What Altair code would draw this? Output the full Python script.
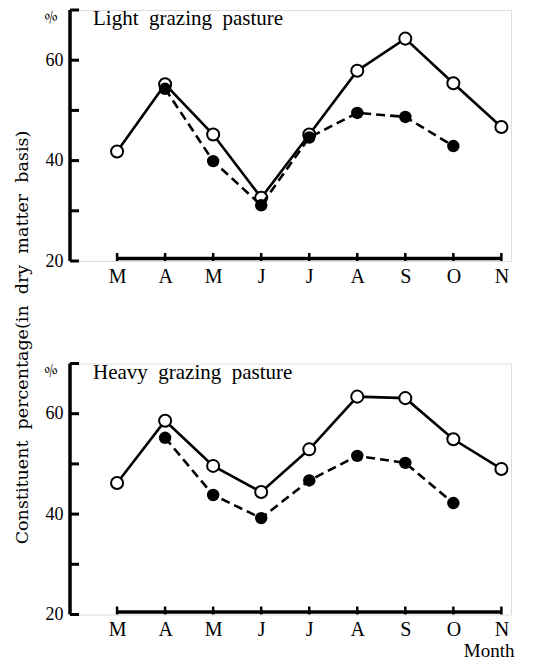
import altair as alt
import pandas as pd

months = ["M", "A", "M", "J", "J", "A", "S", "O", "N"]
light_open = [41.8, 55.2, 45.2, 32.6, 45.2, 57.9, 64.3, 55.4, 46.7]
light_filled = [None, 54.3, 39.9, 31.1, 44.6, 49.5, 48.7, 42.9, None]
heavy_open = [46.2, 58.6, 49.6, 44.4, 52.9, 63.4, 63.1, 54.9, 49.0]
heavy_filled = [None, 55.2, 43.8, 39.2, 46.7, 51.6, 50.2, 42.2, None]
y_ticks = [20, 30, 40, 50, 60, 70]
y_labels = [20, 40, 60]
y_range = [20, 70]
GAP = "\u00a0 "
panel_titles = [GAP.join(["Light", "grazing", "pasture"]), GAP.join(["Heavy", "grazing", "pasture"])]
y_title = GAP.join(["Constituent", "percentage(in", "dry", "matter", "basis)"])
x_title = "Month"
pct = "%"

FONT = "Liberation Serif"
TFONT = "DejaVu Serif"
W, H = 441, 251
idx = list(range(len(months)))
label_expr = "[" + ",".join("'" + m + "'" for m in months) + "][datum.value]"


def panel(open_vals, filled_vals, title, first):
    d_open = pd.DataFrame({"i": idx, "v": open_vals})
    d_filled = pd.DataFrame({"i": idx, "v": filled_vals}).dropna()
    d_ticks = pd.DataFrame({"v": y_ticks})
    d_months = pd.DataFrame({"i": idx})
    d_range = pd.DataFrame({"v": [y_range[0]], "v2": [y_range[1]]})

    x_axis = alt.Axis(
        values=idx, labelExpr=label_expr, domain=False, ticks=False, grid=False,
        labelFont=FONT, labelFontSize=20, labelColor="black", labelPadding=5,
        labelAngle=0,
        title=None if first else x_title,
        titleFont=FONT, titleFontSize=19, titleFontWeight="normal", titleColor="black",
        titleX=W + 3, titleY=42, titleAlign="right", titleBaseline="alphabetic",
        titleAnchor="end",
    )
    if first:
        y_axis = alt.Axis(
            values=y_labels, domain=False, ticks=False, grid=False,
            labelFont=FONT, labelFontSize=18, labelColor="black", labelPadding=7,
            title=y_title, titleFont=TFONT, titleFontSize=17.5, titleFontWeight="normal",
            titleColor="black", titleAngle=270, titleX=-39, titleY=327,
            titleAlign="center", titleBaseline="bottom",
        )
    else:
        y_axis = alt.Axis(
            values=y_labels, domain=False, ticks=False, grid=False,
            labelFont=FONT, labelFontSize=18, labelColor="black", labelPadding=7,
            title=None,
        )

    xs = alt.X("i:Q", scale=alt.Scale(domain=[-0.98, 8.2], nice=False, zero=False), axis=x_axis)
    ys = alt.Y("v:Q", scale=alt.Scale(domain=y_range, nice=False, zero=False), axis=y_axis)

    solid = alt.Chart(d_open).mark_line(color="black", strokeWidth=2.6).encode(x=xs, y=ys)
    open_pts = alt.Chart(d_open).mark_point(
        shape="circle", size=145, filled=True, fill="white", stroke="black",
        strokeWidth=2, opacity=1,
    ).encode(x="i:Q", y="v:Q")
    dashed = alt.Chart(d_filled).mark_line(
        color="black", strokeWidth=2.6, strokeDash=[9, 5]
    ).encode(x="i:Q", y="v:Q")
    filled_pts = alt.Chart(d_filled).mark_circle(size=155, color="black", opacity=1).encode(
        x="i:Q", y="v:Q"
    )
    yline = alt.Chart(d_range).mark_rule(color="black", strokeWidth=3.5).encode(
        y="v:Q", y2="v2", x=alt.value(0)
    )
    ytick_rules = alt.Chart(d_ticks).mark_rule(color="black", strokeWidth=3).encode(
        y="v:Q", x=alt.value(0), x2=alt.value(9)
    )
    xline = alt.Chart(d_months).mark_rule(color="black", strokeWidth=3.5, yOffset=-2.5).encode(
        x="min(i):Q", x2="max(i)", y=alt.datum(y_range[0])
    )
    xticks = alt.Chart(d_months).mark_rule(color="black", strokeWidth=2.5).encode(
        x="i:Q", y=alt.datum(y_range[0]), y2=alt.value(H - 8)
    )
    ttl = alt.Chart(pd.DataFrame({"t": [title]})).mark_text(
        font=FONT, fontSize=21, align="left", baseline="middle", color="black"
    ).encode(text="t:N", x=alt.value(23), y=alt.value(9))
    pc = alt.Chart(pd.DataFrame({"t": [pct]})).mark_text(
        font=FONT, fontSize=15, fontStyle="italic", align="center", baseline="middle",
        color="black", angle=330,
    ).encode(text="t:N", x=alt.value(-19), y=alt.value(7))

    return alt.layer(
        solid, yline, ytick_rules, xline, xticks, open_pts, dashed, filled_pts, ttl, pc
    ).properties(width=W, height=H)


top = panel(light_open, light_filled, panel_titles[0], True)
bottom = panel(heavy_open, heavy_filled, panel_titles[1], False)

chart = alt.vconcat(top, bottom, spacing=102.5, bounds="flush").properties(
    padding={"left": 12, "top": 7, "right": 5, "bottom": 0}
).configure_view(stroke=None).configure(background="white")

chart.save("out.html", embed_options={"renderer": "svg", "actions": False})
